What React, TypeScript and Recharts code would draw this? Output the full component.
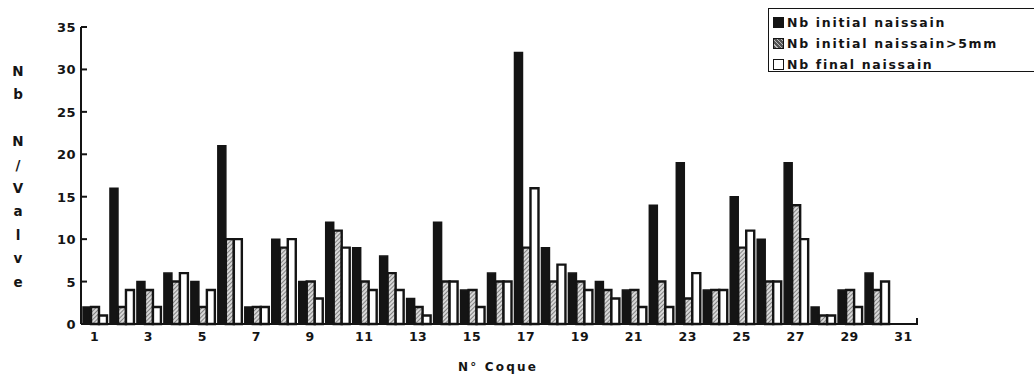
import { BarChart, Bar, XAxis, YAxis } from 'recharts'

// N° de coque (shell number)
const coques = [
  '1', '2', '3', '4', '5', '6', '7', '8', '9', '10', '11', '12', '13', '14', '15', '16',
  '17', '18', '19', '20', '21', '22', '23', '24', '25', '26', '27', '28', '29', '30', '31',
]

// spat counts per valve
const initialNaissain = [2, 16, 5, 6, 5, 21, 2, 10, 5, 12, 9, 8, 3, 12, 4, 6, 32, 9, 6, 5, 4, 14, 19, 4, 15, 10, 19, 2, 4, 6, null]
const initialOver5mm = [2, 2, 4, 5, 2, 10, 2, 9, 5, 11, 5, 6, 2, 5, 4, 5, 9, 5, 5, 4, 4, 5, 3, 4, 9, 5, 14, 1, 4, 4, null]
const finalNaissain = [1, 4, 2, 6, 4, 10, 2, 10, 3, 9, 4, 4, 1, 5, 2, 5, 16, 7, 4, 3, 2, 2, 6, 4, 11, 5, 10, 1, 2, 5, null]

const yTicks = [0, 5, 10, 15, 20, 25, 30, 35]
const yTitle = ['N', 'b', '', 'N', '/', 'V', 'a', 'l', 'v', 'e']
const legendItems = ['Nb initial naissain', 'Nb initial naissain>5mm', 'Nb final naissain']

const data = coques.map((coque, i) => ({
  coque,
  initial: initialNaissain[i],
  over5: initialOver5mm[i],
  final: finalNaissain[i],
}))

const INK = '#141414'
const FONT = '"DejaVu Sans", "Liberation Sans", sans-serif'
const AXIS_X = 81

function YTick(props: any) {
  const { x, y, payload } = props
  return (
    <g>
      <text x={x} y={y} dy={5} textAnchor="end" fill={INK} fontSize={13} fontWeight={700} fontFamily={FONT} letterSpacing={0.5}>
        {payload.value}
      </text>
      <line x1={AXIS_X} x2={AXIS_X + 6} y1={y} y2={y} stroke={INK} strokeWidth={2} />
    </g>
  )
}

function Swatch({ kind }: { kind: number }) {
  const base = { width: 9, height: 9, border: `1.5px solid ${INK}`, marginRight: 3, flex: 'none' as const }
  if (kind === 0) return <div style={{ ...base, background: INK }} />
  if (kind === 1)
    return (
      <div
        style={{
          ...base,
          background: 'repeating-linear-gradient(45deg, #555 0 2px, #bbb 2px 3px)',
        }}
      />
    )
  return <div style={{ ...base, background: '#fff' }} />
}

export default function App() {
  return (
    <div style={{ position: 'absolute', left: 0, top: 0, width: 1034, height: 387, background: '#fff', overflow: 'hidden' }}>
      <BarChart
        width={1034}
        height={387}
        data={data}
        margin={{ top: 27, right: 117, bottom: 0, left: 0 }}
        barCategoryGap={2}
        barGap={0}
      >
        <defs>
          <pattern id="hatch" width="3" height="3" patternUnits="userSpaceOnUse" patternTransform="rotate(45)">
            <rect width="3" height="3" fill="#d8d8d8" />
            <line x1="0" y1="0" x2="0" y2="3" stroke="#555" strokeWidth="1.3" />
          </pattern>
        </defs>
        <XAxis
          dataKey="coque"
          interval={1}
          height={63}
          tickLine={false}
          tickSize={0}
          tickMargin={8}
          axisLine={{ stroke: INK, strokeWidth: 2 }}
          tick={{ fill: INK, fontSize: 12.5, fontWeight: 700, fontFamily: FONT, letterSpacing: 0.5 }}
        />
        <YAxis
          domain={[0, 35]}
          ticks={yTicks}
          width={AXIS_X}
          tickLine={false}
          tickSize={0}
          tickMargin={5}
          axisLine={{ stroke: INK, strokeWidth: 2 }}
          tick={<YTick />}
        />
        <Bar dataKey="initial" fill={INK} stroke={INK} strokeWidth={1.5} isAnimationActive={false} />
        <Bar dataKey="over5" fill="url(#hatch)" stroke={INK} strokeWidth={2.4} isAnimationActive={false} />
        <Bar dataKey="final" fill="#fff" stroke={INK} strokeWidth={2.4} isAnimationActive={false} />
      </BarChart>

      {/* end tick of the x axis */}
      <div style={{ position: 'absolute', left: 916, top: 318, width: 2, height: 7, background: INK }} />

      {/* vertical y-axis title */}
      <div style={{ position: 'absolute', left: 10, top: 60, width: 16, fontFamily: FONT, fontWeight: 700, fontSize: 13.5, color: INK, textAlign: 'center' }}>
        {yTitle.map((ch, i) => (
          <div key={i} style={{ height: 23.4, lineHeight: '23.4px' }}>
            {ch}
          </div>
        ))}
      </div>

      {/* x-axis title */}
      <div style={{ position: 'absolute', left: 400, width: 196, top: 360, textAlign: 'center', fontFamily: FONT, fontWeight: 700, fontSize: 12, letterSpacing: 2.2, color: INK }}>
        N° Coque
      </div>

      {/* legend */}
      <div
        style={{
          position: 'absolute',
          left: 768,
          top: 8,
          width: 360,
          height: 64,
          border: `1.5px solid ${INK}`,
          padding: '3px 0 0 4px',
          boxSizing: 'border-box',
          fontFamily: FONT,
          fontWeight: 700,
          fontSize: 12.5,
          letterSpacing: 1.7,
          color: INK,
        }}
      >
        {legendItems.map((name, i) => (
          <div key={name} style={{ display: 'flex', alignItems: 'center', height: 21, whiteSpace: 'nowrap' }}>
            <Swatch kind={i} />
            {name}
          </div>
        ))}
      </div>
    </div>
  )
}
